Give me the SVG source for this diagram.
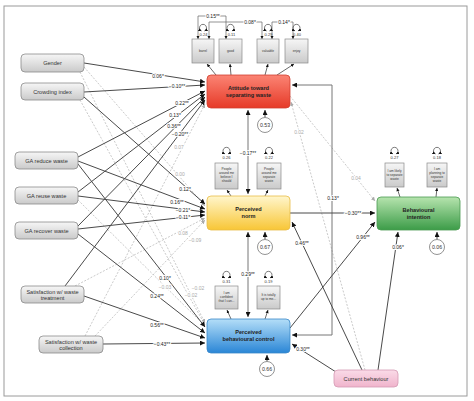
<svg xmlns="http://www.w3.org/2000/svg" width="474" height="401" viewBox="0 0 474 401">
<defs>
<linearGradient id="gGrey" x1="0" y1="0" x2="0" y2="1"><stop offset="0" stop-color="#f6f6f6"/><stop offset="1" stop-color="#cacaca"/></linearGradient>
<linearGradient id="gRed" x1="0" y1="0" x2="0" y2="1"><stop offset="0" stop-color="#fb8474"/><stop offset="1" stop-color="#e63a28"/></linearGradient>
<linearGradient id="gYel" x1="0" y1="0" x2="0" y2="1"><stop offset="0" stop-color="#fff6cc"/><stop offset="1" stop-color="#f8c636"/></linearGradient>
<linearGradient id="gBlue" x1="0" y1="0" x2="0" y2="1"><stop offset="0" stop-color="#b4def8"/><stop offset="1" stop-color="#2a86d6"/></linearGradient>
<linearGradient id="gGreen" x1="0" y1="0" x2="0" y2="1"><stop offset="0" stop-color="#b6e4ae"/><stop offset="1" stop-color="#3c9c48"/></linearGradient>
<linearGradient id="gPink" x1="0" y1="0" x2="0" y2="1"><stop offset="0" stop-color="#fadbe8"/><stop offset="1" stop-color="#f0b4cc"/></linearGradient>
<marker id="ah" viewBox="0 0 10 10" refX="10" refY="5" markerWidth="5" markerHeight="5" markerUnits="userSpaceOnUse" orient="auto-start-reverse"><path d="M0,0 L10,5 L0,10 z" fill="#111"/></marker>
<marker id="ahg" viewBox="0 0 10 10" refX="10" refY="5" markerWidth="4" markerHeight="4" markerUnits="userSpaceOnUse" orient="auto-start-reverse"><path d="M0,0 L10,5 L0,10 z" fill="#aaa"/></marker>
<marker id="ahs" viewBox="0 0 10 10" refX="10" refY="5" markerWidth="3.2" markerHeight="3.2" markerUnits="userSpaceOnUse" orient="auto-start-reverse"><path d="M0,0 L10,5 L0,10 z" fill="#111"/></marker>
</defs>
<style>
.sol{fill:none;stroke:#4a4a4a;stroke-width:1;marker-end:url(#ah)}
.cov{fill:none;stroke:#777;stroke-width:1;marker-start:url(#ah);marker-end:url(#ah)}
.dsh{fill:none;stroke:#b8b8b8;stroke-width:0.75;stroke-dasharray:2 1.5;marker-end:url(#ahg)}
.ind{fill:none;stroke:#444;stroke-width:0.8;marker-end:url(#ahs)}
.cov2{fill:none;stroke:#666;stroke-width:0.7;marker-start:url(#ahs);marker-end:url(#ahs)}
.loop{fill:none;stroke:#444;stroke-width:0.7;marker-start:url(#ahs);marker-end:url(#ahs)}
.lb{font-family:"Liberation Sans",Arial,sans-serif;font-size:5px;text-anchor:middle;fill:#222;paint-order:stroke;stroke:#fff;stroke-width:2px;stroke-linejoin:round}
.lg{font-family:"Liberation Sans",Arial,sans-serif;font-size:5px;text-anchor:middle;fill:#aaa;paint-order:stroke;stroke:#fff;stroke-width:2px;stroke-linejoin:round}
.nt{font-family:"Liberation Sans",Arial,sans-serif;font-size:5.6px;text-anchor:middle;fill:#333}
.ct{font-family:"Liberation Sans",Arial,sans-serif;font-size:5.6px;font-weight:bold;text-anchor:middle;fill:#222}
.it{font-family:"Liberation Sans",Arial,sans-serif;font-size:3.2px;text-anchor:middle;fill:#333}
.vt{font-family:"Liberation Sans",Arial,sans-serif;font-size:4px;text-anchor:middle;fill:#333}
.rt{font-family:"Liberation Sans",Arial,sans-serif;font-size:5.2px;text-anchor:middle;fill:#333}
.ext{fill:url(#gGrey);stroke:#8a8a8a;stroke-width:0.8}
.box{fill:url(#gGrey);stroke:#8a8a8a;stroke-width:0.7}
.res{fill:#fff;stroke:#777;stroke-width:0.8}
</style>
<rect x="4" y="6" width="463" height="390" fill="#fff" stroke="#9a9a9a" stroke-width="1"/>

<g id="connectors">
<path class="dsh" d="M84,67 L205,206"/>
<path class="dsh" d="M80,72 L205,323"/>
<path class="dsh" d="M80,100 L205,325"/>
<path class="dsh" d="M78,200 L205,326"/>
<path class="dsh" d="M85,336 L205,104"/>
<path class="dsh" d="M75,286 L205,218"/>
<path class="dsh" d="M95,336 L205,220"/>
<path class="dsh" d="M290,96 L375,201"/>
<path class="dsh" d="M365,370 L291,102"/>
<path class="sol" d="M84,63 L205,82"/>
<path class="sol" d="M84,92 L205,85"/>
<path class="sol" d="M78,157 L205,91"/>
<path class="sol" d="M78,192 L205,94"/>
<path class="sol" d="M78,226 L205,97"/>
<path class="sol" d="M65,286 L205,100"/>
<path class="sol" d="M84,97 L205,204"/>
<path class="sol" d="M78,161 L205,209"/>
<path class="sol" d="M78,196 L205,212"/>
<path class="sol" d="M78,229 L205,215"/>
<path class="sol" d="M78,164 L205,327"/>
<path class="sol" d="M78,234 L205,333"/>
<path class="sol" d="M84,296 L205,338"/>
<path class="sol" d="M103,344 L205,343"/>
<path class="cov" d="M292,85 H332 V335 H292"/>
<path class="cov" d="M248,110 V194"/>
<path class="cov" d="M248,232 V317"/>
<path class="sol" d="M290,213 L375,213"/>
<path class="sol" d="M290,328 L375,222"/>
<path class="sol" d="M362,370 L292,222"/>
<path class="sol" d="M336,372 L292,344"/>
<path class="sol" d="M378,370 L398,232"/>
<path class="sol" d="M265,117.5 V110"/>
<path class="sol" d="M265,239.5 V232"/>
<path class="sol" d="M267,361.5 V355"/>
<path class="sol" d="M437,239.5 V232"/>
<path class="ind" d="M216,75 L207,64"/>
<path class="ind" d="M231,75 L230,64"/>
<path class="ind" d="M265,75 L268,64"/>
<path class="ind" d="M277,75 L294,64"/>
<path class="ind" d="M231,196 L227,190"/>
<path class="ind" d="M265,196 L268,190"/>
<path class="ind" d="M231,319 L227,310"/>
<path class="ind" d="M265,319 L268,310"/>
<path class="ind" d="M400,197 L397,188"/>
<path class="ind" d="M436,197 L437,188"/>
<path class="cov2" d="M198,39 V16 H226 V39"/>
<path class="cov2" d="M209,39 V22 H262 V39"/>
<path class="cov2" d="M272,39 V22 H293 V39"/>
<path class="loop" d="M201.5,31 A3.5,3.5 0 1 1 204.5,31"/>
<path class="loop" d="M229,31 A3.5,3.5 0 1 1 232,31"/>
<path class="loop" d="M266.5,31 A3.5,3.5 0 1 1 269.5,31"/>
<path class="loop" d="M295,31 A3.5,3.5 0 1 1 298,31"/>
<path class="loop" d="M225,154 A3.5,3.5 0 1 1 228,154"/>
<path class="loop" d="M267.5,154 A3.5,3.5 0 1 1 270.5,154"/>
<path class="loop" d="M225,278 A3.5,3.5 0 1 1 228,278"/>
<path class="loop" d="M267,278 A3.5,3.5 0 1 1 270,278"/>
<path class="loop" d="M393,154 A3.5,3.5 0 1 1 396,154"/>
<path class="loop" d="M435.5,154 A3.5,3.5 0 1 1 438.5,154"/>
<text class="lb" x="158" y="78">0.06*</text>
<text class="lb" x="177" y="87.5">−0.10**</text>
<text class="lb" x="182" y="105">0.22**</text>
<text class="lb" x="175" y="117">0.13*</text>
<text class="lb" x="174" y="128">0.36**</text>
<text class="lb" x="180" y="136">−0.20**</text>
<text class="lg" x="179" y="149">0.07</text>
<text class="lg" x="180" y="176">0.00</text>
<text class="lb" x="185" y="191">0.12*</text>
<text class="lb" x="177" y="204">0.16**</text>
<text class="lb" x="183" y="212">−0.21*</text>
<text class="lb" x="183" y="219">−0.11*</text>
<text class="lg" x="183" y="235">0.08</text>
<text class="lg" x="195" y="242">−0.09</text>
<text class="lb" x="165" y="280">0.10*</text>
<text class="lg" x="165" y="289">−0.03</text>
<text class="lg" x="198" y="290">−0.02</text>
<text class="lg" x="191" y="297">−0.02</text>
<text class="lb" x="157" y="298">0.24**</text>
<text class="lb" x="157" y="327">0.56**</text>
<text class="lb" x="162" y="346">−0.43**</text>
<text class="lb" x="248" y="155">−0.17**</text>
<text class="lb" x="248" y="276">0.29**</text>
<text class="lb" x="333" y="200">0.13*</text>
<text class="lg" x="299" y="134">0.02</text>
<text class="lg" x="356" y="180">0.04</text>
<text class="lb" x="353" y="215">−0.30**</text>
<text class="lb" x="363" y="239">0.96**</text>
<text class="lb" x="302" y="245">0.46**</text>
<text class="lb" x="303" y="351">0.30**</text>
<text class="lb" x="398" y="249">0.06*</text>
<text class="lb" x="213" y="18">0.15**</text>
<text class="lb" x="250" y="24">0.08*</text>
<text class="lb" x="284" y="24">0.14*</text>
</g>

<g id="gender"><rect class="ext" x="21" y="54" width="63" height="18" rx="4"/><text class="nt" x="52.5" y="65">Gender</text></g>
<g id="crowding"><rect class="ext" x="21" y="83" width="63" height="17" rx="4"/><text class="nt" x="52.5" y="93.5">Crowding index</text></g>
<g id="ga-reduce"><rect class="ext" x="15" y="152" width="63" height="17" rx="4"/><text class="nt" x="46.5" y="162.5">GA reduce waste</text></g>
<g id="ga-reuse"><rect class="ext" x="15" y="187" width="63" height="17" rx="4"/><text class="nt" x="46.5" y="197.5">GA reuse waste</text></g>
<g id="ga-recover"><rect class="ext" x="15" y="222" width="63" height="17" rx="4"/><text class="nt" x="46.5" y="232.5">GA recover waste</text></g>
<g id="sat-treatment"><rect class="ext" x="21" y="286" width="63" height="17" rx="4"/><text class="nt" x="52.5" y="293.5">Satisfaction w/ waste</text><text class="nt" x="52.5" y="300">treatment</text></g>
<g id="sat-collection"><rect class="ext" x="39" y="336" width="64" height="17" rx="4"/><text class="nt" x="71" y="343.5">Satisfaction w/ waste</text><text class="nt" x="71" y="350">collection</text></g>

<g id="attitude"><rect x="207" y="75" width="83" height="33" rx="4" fill="url(#gRed)" stroke="#d04030" stroke-width="0.8"/><text class="ct" x="248.5" y="90">Attitude toward</text><text class="ct" x="248.5" y="97">separating waste</text></g>
<g id="norm"><rect x="207" y="196" width="83" height="34" rx="4" fill="url(#gYel)" stroke="#e8bc48" stroke-width="0.8"/><text class="ct" x="248.5" y="211">Perceived</text><text class="ct" x="248.5" y="218">norm</text></g>
<g id="pbc"><rect x="207" y="319" width="83" height="34" rx="4" fill="url(#gBlue)" stroke="#3a88c8" stroke-width="0.8"/><text class="ct" x="248.5" y="334">Perceived</text><text class="ct" x="248.5" y="341">behavioural control</text></g>
<g id="intention"><rect x="377" y="197" width="83" height="33" rx="4" fill="url(#gGreen)" stroke="#4a9a50" stroke-width="0.8"/><text class="ct" x="418.5" y="212">Behavioural</text><text class="ct" x="418.5" y="219">intention</text></g>
<g id="current-behaviour"><rect x="334" y="370" width="64" height="17" rx="4" fill="url(#gPink)" stroke="#d49ab4" stroke-width="0.8"/><text class="nt" x="366" y="380.5">Current behaviour</text></g>

<g id="res-attitude"><circle class="res" cx="265" cy="125" r="7.5"/><text class="rt" x="265" y="127">0.53</text></g>
<g id="res-norm"><circle class="res" cx="265" cy="247" r="7.5"/><text class="rt" x="265" y="249">0.67</text></g>
<g id="res-pbc"><circle class="res" cx="267" cy="369" r="7.5"/><text class="rt" x="267" y="371">0.66</text></g>
<g id="res-intention"><circle class="res" cx="437" cy="247" r="7.5"/><text class="rt" x="437" y="249">0.06</text></g>

<g id="ind-barrel"><rect class="box" x="192" y="39" width="22" height="24"/><text class="it" x="203" y="52">barrel</text><text class="vt" x="203.5" y="36">0.24</text></g>
<g id="ind-good"><rect class="box" x="219" y="39" width="23" height="24"/><text class="it" x="230.5" y="52">good</text><text class="vt" x="231.5" y="36">0.11</text></g>
<g id="ind-valuable"><rect class="box" x="257" y="39" width="22" height="24"/><text class="it" x="268" y="52">valuable</text><text class="vt" x="268.5" y="36">0.29</text></g>
<g id="ind-enjoy"><rect class="box" x="285" y="39" width="23" height="24"/><text class="it" x="296.5" y="52">enjoy</text><text class="vt" x="297" y="36">0.40</text></g>

<g id="ind-norm1"><rect class="box" x="215" y="163" width="23" height="26"/><text class="it" x="226.5" y="170">People</text><text class="it" x="226.5" y="174">around me</text><text class="it" x="226.5" y="178">believe I</text><text class="it" x="226.5" y="182">should</text><text class="vt" x="226.5" y="159">0.26</text></g>
<g id="ind-norm2"><rect class="box" x="257" y="163" width="24" height="26"/><text class="it" x="269" y="170">People</text><text class="it" x="269" y="174">around me</text><text class="it" x="269" y="178">separate</text><text class="it" x="269" y="182">waste</text><text class="vt" x="269" y="159">0.22</text></g>

<g id="ind-pbc1"><rect class="box" x="215" y="286" width="23" height="23"/><text class="it" x="226.5" y="294">I am</text><text class="it" x="226.5" y="298">confident</text><text class="it" x="226.5" y="302">that I can...</text><text class="vt" x="226.5" y="283">0.31</text></g>
<g id="ind-pbc2"><rect class="box" x="257" y="286" width="23" height="23"/><text class="it" x="268.5" y="296">It is totally</text><text class="it" x="268.5" y="300">up to me...</text><text class="vt" x="268.5" y="283">0.19</text></g>

<g id="ind-int1"><rect class="box" x="385" y="163" width="19" height="24"/><text class="it" x="394.5" y="172">I am likely</text><text class="it" x="394.5" y="176">to separate</text><text class="it" x="394.5" y="180">waste</text><text class="vt" x="394.5" y="159">0.27</text></g>
<g id="ind-int2"><rect class="box" x="427" y="163" width="20" height="24"/><text class="it" x="437" y="170">I am</text><text class="it" x="437" y="174">planning to</text><text class="it" x="437" y="178">separate</text><text class="it" x="437" y="182">waste</text><text class="vt" x="437" y="159">0.18</text></g>
</svg>
